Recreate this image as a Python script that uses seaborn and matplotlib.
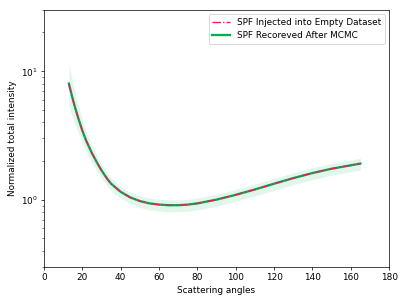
import matplotlib
matplotlib.use("Agg")
import matplotlib.pyplot as plt
import pandas as pd
import seaborn as sns

# Scattering phase function
angles = [13, 14, 15, 16, 18, 20, 22, 25, 28, 30, 33, 35, 40, 45, 50, 55, 60,
          65, 70, 75, 80, 90, 100, 110, 120, 130, 140, 150, 160, 165]
spf_injected = [7.9, 6.9, 6.05, 5.35, 4.25, 3.45, 2.88, 2.3, 1.90, 1.69, 1.45,
                1.33, 1.15, 1.04, 0.975, 0.935, 0.915, 0.905, 0.905, 0.915,
                0.935, 1.00, 1.09, 1.20, 1.33, 1.47, 1.61, 1.74, 1.85, 1.90]
spf_recovered = [8.0, 6.95, 6.07, 5.36, 4.25, 3.45, 2.88, 2.3, 1.90, 1.69, 1.45,
                 1.33, 1.15, 1.04, 0.975, 0.935, 0.915, 0.905, 0.905, 0.915,
                 0.935, 1.00, 1.09, 1.20, 1.33, 1.47, 1.61, 1.74, 1.85, 1.91]
band_low = [5.3, 4.75, 4.3, 3.9, 3.27, 2.76, 2.36, 1.94, 1.63, 1.47, 1.28, 1.18,
            1.03, 0.93, 0.87, 0.835, 0.815, 0.805, 0.805, 0.815, 0.83, 0.89,
            0.97, 1.07, 1.18, 1.31, 1.43, 1.55, 1.65, 1.69]
band_high = [11.5, 9.7, 8.2, 7.05, 5.35, 4.17, 3.4, 2.65, 2.15, 1.89, 1.61,
             1.47, 1.265, 1.14, 1.07, 1.03, 1.005, 0.995, 0.995, 1.005, 1.03,
             1.10, 1.20, 1.32, 1.46, 1.62, 1.77, 1.91, 2.03, 2.10]

df = pd.DataFrame({"angle": angles, "inj": spf_injected, "rec": spf_recovered})

fig, ax = plt.subplots(figsize=(6.4, 4.8), dpi=63.6)
fig.subplots_adjust(left=0.108, right=0.956, top=0.967, bottom=0.125)

ax.fill_between(angles, band_low, band_high, color="#e2f6ec", lw=0)
sns.lineplot(data=df, x="angle", y="rec", ax=ax, color="#00b050", lw=2.6,
             label="SPF Recoreved After MCMC", zorder=3)
sns.lineplot(data=df, x="angle", y="inj", ax=ax, color="#f0185a", lw=1.5,
             linestyle="-.", label="SPF Injected into Empty Dataset", zorder=4)

ax.set_yscale("log")
ax.set_xlim(0, 180)
ax.set_ylim(0.3, 30)
ax.set_xticks(range(0, 181, 20))
ax.set_xlabel("Scattering angles")
ax.set_ylabel("Normalized total intensity")

handles, labels = ax.get_legend_handles_labels()
ax.legend(handles[::-1], labels[::-1], loc="upper right")

fig.savefig("out.png", dpi=63.6)
